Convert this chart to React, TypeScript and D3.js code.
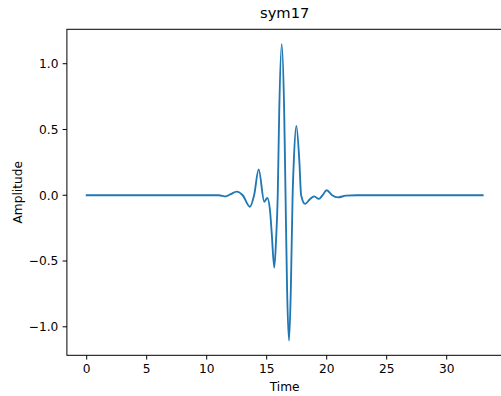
import React from "react";
import * as d3 from "d3";

const times: number[] = [0, 5, 10, 11, 11.6, 12.0, 12.5, 13.0, 13.6, 13.95, 14.33, 14.8, 15.05, 15.27, 15.42, 15.63, 15.78, 15.92, 16.04, 16.25, 16.46, 16.57, 16.7, 16.86, 17.01, 17.16, 17.26, 17.47, 17.72, 17.87, 18.2, 18.6, 18.95, 19.35, 19.65, 20.0, 20.45, 20.95, 21.6, 22.5, 25, 33];
const amps: number[] = [0, 0, 0, 0, -0.008, 0.008, 0.028, 0.0, -0.087, 0.0, 0.197, -0.049, -0.02, -0.11, -0.29, -0.55, -0.34, 0.0, 0.62, 1.149, 0.62, 0.0, -0.72, -1.104, -0.72, 0.0, 0.26, 0.527, 0.26, 0.0, -0.066, -0.03, -0.008, -0.028, 0.0, 0.038, 0.0, -0.016, -0.003, 0, 0, 0];
const xTicks: number[] = [0, 5, 10, 15, 20, 25, 30];
const yTicks: number[] = [-1.0, -0.5, 0.0, 0.5, 1.0];
const title = "sym17";
const xLabel = "Time";
const yLabel = "Amplitude";

export default function App() {
  const W = 501, H = 396;
  const left = 66.9, right = 502.5, top = 29.3, bottom = 355.3;
  const xMin = d3.min(times)!, xMax = d3.max(times)!;
  const xm = (xMax - xMin) * 0.05;
  const yMin = d3.min(amps)!, yMax = d3.max(amps)!;
  const ym = (yMax - yMin) * 0.05;
  const x = d3.scaleLinear().domain([xMin - xm, xMax + xm]).range([left, right]);
  const y = d3.scaleLinear().domain([yMin - ym, yMax + ym]).range([bottom, top]);
  const pts: [number, number][] = times.map((t, i) => [t, amps[i]]);
  const line = d3.line<[number, number]>().x(d => x(d[0])).y(d => y(d[1])).curve(d3.curveMonotoneX);
  const font = "DejaVu Sans, sans-serif";
  const fmt = (v: number) => (v < 0 ? "\u2212" : "") + Math.abs(v).toFixed(1);
  return (
    <svg width={W} height={H} style={{ position: "absolute", left: 0, top: 0 }} fontFamily={font}>
      <rect x={0} y={0} width={W} height={H} fill="#fff" />
      <path d={line(pts) || ""} fill="none" stroke="#1f77b4" strokeWidth={1.85} strokeLinejoin="round" strokeLinecap="square" />
      <rect x={left} y={top} width={right - left} height={bottom - top} fill="none" stroke="#000" strokeWidth={1} />
      {xTicks.map(t => (
        <g key={"x" + t}>
          <line x1={x(t)} x2={x(t)} y1={bottom} y2={bottom + 4.3} stroke="#000" strokeWidth={1} />
          <text x={x(t)} y={bottom + 17.5} fontSize={12.2} textAnchor="middle" fill="#000">{t}</text>
        </g>
      ))}
      {yTicks.map(t => (
        <g key={"y" + t}>
          <line x1={left - 4.3} x2={left} y1={y(t)} y2={y(t)} stroke="#000" strokeWidth={1} />
          <text x={left - 8.5} y={y(t) + 4.4} fontSize={12.2} textAnchor="end" fill="#000">{fmt(t)}</text>
        </g>
      ))}
      <text x={(left + right) / 2} y={391} fontSize={12.2} textAnchor="middle" fill="#000">{xLabel}</text>
      <text transform={`translate(21.5, ${(top + bottom) / 2}) rotate(-90)`} fontSize={12.2} textAnchor="middle" fill="#000">{yLabel}</text>
      <text x={(left + right) / 2} y={18} fontSize={14.7} textAnchor="middle" fill="#000">{title}</text>
    </svg>
  );
}
